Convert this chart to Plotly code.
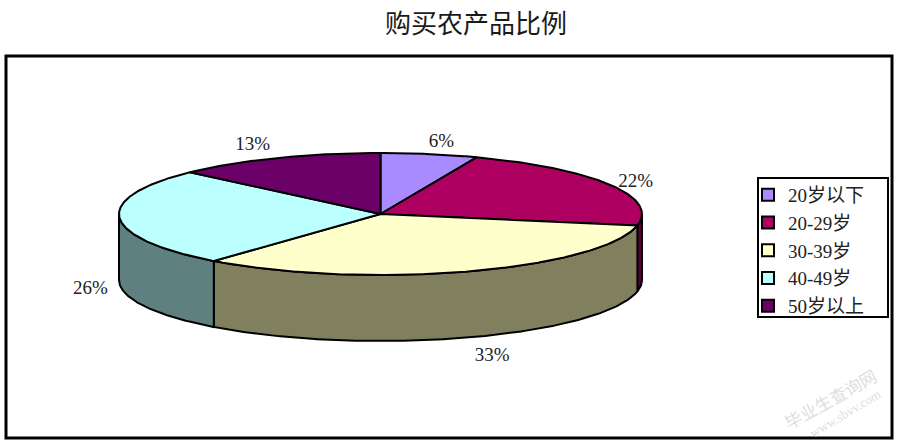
import math
import plotly.graph_objects as go

# ---- data ----
categories = ["20岁以下", "20-29岁", "30-39岁", "40-49岁", "50岁以上"]
shares = [6, 22, 33, 26, 13]
top_colors = ["#A98AFF", "#AE0060", "#FFFFCC", "#BBFFFF", "#6B0068"]
side_colors = ["#554580", "#5C0036", "#80805F", "#5F8080", "#360034"]
label_offsets = [(12, -12), (26, -2), (23, 85), (-29, 71), (-24, -13)]

# ---- geometry of the tilted disc, in pixels of the 900x448 canvas ----
CX, CY, RX, RY, DEPTH = 380.5, 214, 261.5, 61, 66
STROKE = "#000000"
SERIF = "Liberation Serif, Noto Sans CJK SC, sans-serif"


def rim(t_deg, drop=0):
    t = math.radians(t_deg)
    return CX + RX * math.sin(t), CY - RY * math.cos(t) + drop


def arc(a, b, drop=0):
    n = max(2, int(abs(b - a) * 2))
    return [rim(a + (b - a) * i / n, drop) for i in range(n + 1)]


total = sum(shares)
edges = [0]
for s in shares:
    edges.append(edges[-1] + s / total * 360)

fig = go.Figure()

# side walls (only the front half of the disc can be seen)
for i in range(len(shares)):
    a, b = max(edges[i], 90), min(edges[i + 1], 270)
    if b <= a:
        continue
    pts = arc(a, b) + arc(b, a, DEPTH)
    pts.append(pts[0])
    fig.add_trace(go.Scatter(
        x=[p[0] for p in pts], y=[p[1] for p in pts], mode="lines", fill="toself",
        fillcolor=side_colors[i], line=dict(color=STROKE, width=2),
        showlegend=False, hoverinfo="skip"))

# top faces
for i in range(len(shares)):
    pts = [(CX, CY)] + arc(edges[i], edges[i + 1]) + [(CX, CY)]
    fig.add_trace(go.Scatter(
        x=[p[0] for p in pts], y=[p[1] for p in pts], mode="lines", fill="toself",
        fillcolor=top_colors[i], line=dict(color=STROKE, width=2),
        name=categories[i], showlegend=False, hoverinfo="skip"))

# percentage labels
lx, ly, lt = [], [], []
for i, s in enumerate(shares):
    mid = (edges[i] + edges[i + 1]) / 2
    x, y = rim(mid)
    lx.append(x + label_offsets[i][0])
    ly.append(y + label_offsets[i][1])
    lt.append(f"{s}%")
fig.add_trace(go.Scatter(x=lx, y=ly, text=lt, mode="text", showlegend=False,
                         textposition="middle center", hoverinfo="skip",
                         textfont=dict(family=SERIF, size=19, color="#222222")))

# legend entries
for name, color in zip(categories, top_colors):
    fig.add_trace(go.Scatter(
        x=[None], y=[None], mode="markers", name=name,
        marker=dict(symbol="square", size=12, color=color, line=dict(color="#000000", width=2))))

fig.update_layout(
    width=900, height=448, autosize=False,
    margin=dict(l=0, r=0, t=0, b=0),
    paper_bgcolor="#FFFFFF", plot_bgcolor="#FFFFFF",
    title=dict(text="购买农产品比例", x=476 / 900, y=1 - 24 / 448, xanchor="center", yanchor="middle",
               font=dict(family=SERIF, size=26, color="#1a1a1a")),
    xaxis=dict(range=[0, 900], visible=False, fixedrange=True),
    yaxis=dict(range=[448, 0], visible=False, fixedrange=True),
    legend=dict(x=748 / 900, y=1 - 176 / 448, xanchor="left", yanchor="top",
                bgcolor="rgba(0,0,0,0)", borderwidth=0,
                font=dict(family=SERIF, size=19, color="#222222"),
                itemsizing="trace", traceorder="normal"),
    shapes=[
        dict(type="rect", xref="x", yref="y", x0=6, x1=892, y0=56, y1=438,
             line=dict(color="#000000", width=3), layer="below"),
        dict(type="rect", xref="x", yref="y", x0=758, x1=888, y0=178, y1=317,
             line=dict(color="#000000", width=2), fillcolor="#FFFFFF", layer="below"),
    ],
    annotations=[
        dict(text="毕业生查询网", x=830, y=398, xref="x", yref="y", showarrow=False, textangle=-29,
             font=dict(family="Noto Sans CJK SC", size=17, color="#DEDEDE")),
        dict(text="www.sbvv.com", x=845, y=413, xref="x", yref="y", showarrow=False, textangle=-31,
             font=dict(family=SERIF, size=13, color="#DEDEDE")),
    ],
)

fig.write_html("out.html", post_script="document.body.style.margin='0';", config={"displayModeBar": False})
